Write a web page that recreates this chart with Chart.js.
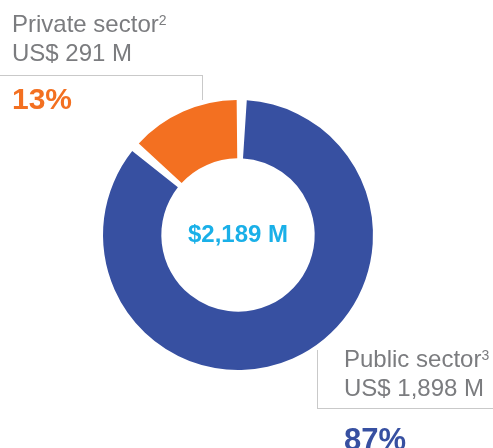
<!DOCTYPE html>
<html>
<head>
<meta charset="utf-8">
<script src="https://cdn.jsdelivr.net/npm/chart.js@4.4.1/dist/chart.umd.min.js"></script>
<style>
  html, body { margin: 0; padding: 0; background: #fff; }
  .wrap { position: relative; width: 493px; height: 448px; overflow: hidden; font-family: "Liberation Sans", Arial, sans-serif; }
  #shareChart { position: absolute; left: 0; top: 0; }
  .lbl { position: absolute; color: #7b7c7f; font-size: 24px; font-weight: 400; line-height: 29px; white-space: nowrap; }
  .lbl sup { font-size: 14px; vertical-align: 7px; line-height: 0; }
  .pct { position: absolute; font-weight: 700; white-space: nowrap; }
  .total { position: absolute; left: 138px; width: 200px; top: 222px; text-align: center; color: #1ab0e8; font-size: 24px; font-weight: 700; line-height: 24px; }
  .rule { position: absolute; border-color: #c9c9c9; border-style: solid; border-width: 0; }
</style>
</head>
<body>
<div class="wrap">
  <canvas id="shareChart" width="493" height="448"></canvas>

  <div class="rule" style="left:0; top:75px; width:202px; height:24px; border-top-width:1.5px; border-right-width:1.5px;"></div>
  <div class="lbl" id="privLabel" style="left:12px; top:9px;"></div>
  <div class="pct" id="privPct" style="left:12px; top:84px; font-size:30px; line-height:30px; color:#f37021;"></div>

  <div class="rule" style="left:317px; top:350px; width:190px; height:58px; border-bottom-width:1.5px; border-left-width:1.5px;"></div>
  <div class="lbl" id="pubLabel" style="left:344px; top:344px;"></div>
  <div class="pct" id="pubPct" style="left:344px; top:424px; font-size:31px; line-height:31px; color:#3750a1;"></div>

  <div class="total" id="totalLabel"></div>
</div>
<script>
// funding split, US$ millions
const sectors = ['Public sector', 'Private sector'];
const notes = ['3', '2'];
const amounts = [1898, 291];
const percents = [87, 13];
const colors = ['#3750a1', '#f37021'];

const total = amounts.reduce((a, b) => a + b, 0);

function fmt(n) {
  return n.toLocaleString('en-US');
}

document.getElementById('pubLabel').innerHTML =
  `${sectors[0]}<sup>${notes[0]}</sup><br>US$ ${fmt(amounts[0])} M`;
document.getElementById('privLabel').innerHTML =
  `${sectors[1]}<sup>${notes[1]}</sup><br>US$ ${fmt(amounts[1])} M`;
document.getElementById('pubPct').textContent = `${percents[0]}%`;
document.getElementById('privPct').textContent = `${percents[1]}%`;
document.getElementById('totalLabel').textContent = `$${fmt(total)} M`;

new Chart(document.getElementById('shareChart').getContext('2d'), {
  type: 'doughnut',
  data: {
    labels: sectors,
    datasets: [{
      data: amounts,
      backgroundColor: colors,
      borderWidth: 0,
      spacing: 5
    }]
  },
  options: {
    responsive: false,
    animation: false,
    cutout: '56%',
    rotation: 0,
    layout: {
      padding: { left: 103, right: 120, top: 100, bottom: 78 }
    },
    plugins: {
      legend: { display: false },
      tooltip: { enabled: false }
    }
  }
});
</script>
</body>
</html>
